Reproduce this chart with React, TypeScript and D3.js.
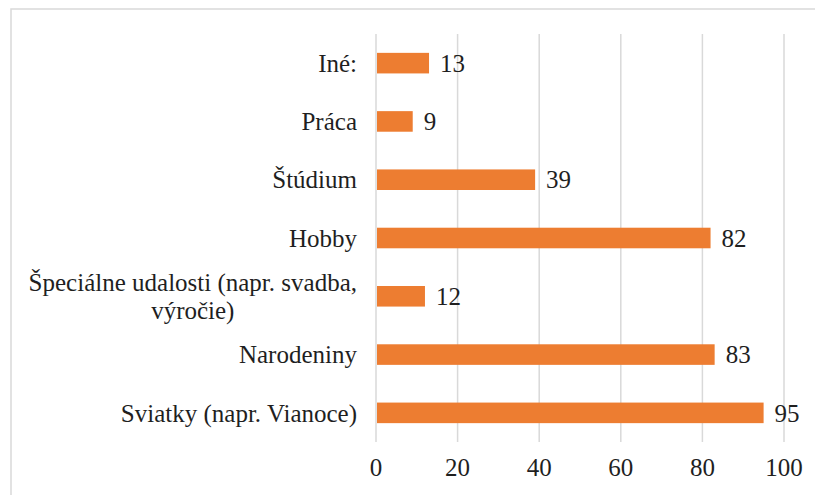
import React, { useEffect, useRef } from "react";
import * as d3 from "d3";

const categories: string[][] = [
  ["Iné:"],
  ["Práca"],
  ["Štúdium"],
  ["Hobby"],
  ["Špeciálne udalosti (napr. svadba,", "výročie)"],
  ["Narodeniny"],
  ["Sviatky (napr. Vianoce)"],
];
const values: number[] = [13, 9, 39, 82, 12, 83, 95];
const xTicks: number[] = [0, 20, 40, 60, 80, 100];

const W = 815;
const H = 495;
const FONT = "Liberation Serif";
const TEXT = "#1f1f1f";
const FS = 25;

export default function App() {
  const ref = useRef<SVGSVGElement | null>(null);

  useEffect(() => {
    const svg = d3.select(ref.current);
    svg.selectAll("*").remove();

    const left = 376, right = 784, top = 34, bottom = 442;
    const x = d3.scaleLinear().domain([0, 100]).range([left, right]);
    const idx = categories.map((_, i) => String(i));
    const y = d3.scaleBand().domain(idx).range([top, bottom]).paddingInner(0.647).paddingOuter(0.3235);

    // frame
    svg.append("rect")
      .attr("x", 11).attr("y", 9).attr("width", 900).attr("height", 600)
      .attr("fill", "#fff").attr("stroke", "#d9d9d9").attr("stroke-width", 1.5);

    // gridlines
    svg.append("g").selectAll("line").data(xTicks).join("line")
      .attr("x1", (d) => x(d)).attr("x2", (d) => x(d))
      .attr("y1", top).attr("y2", bottom)
      .attr("stroke", "#d9d9d9").attr("stroke-width", 1.5);

    // bars
    svg.append("g").selectAll("rect").data(values).join("rect")
      .attr("x", x(0) + 1)
      .attr("y", (_, i) => y(String(i))!)
      .attr("width", (d) => x(d) - x(0) - 1)
      .attr("height", y.bandwidth())
      .attr("fill", "#ED7D31");

    // value labels
    svg.append("g").selectAll("text").data(values).join("text")
      .attr("x", (d) => x(d) + 11)
      .attr("y", (_, i) => y(String(i))! + y.bandwidth() / 2)
      .attr("dy", "0.35em")
      .style("font-family", FONT).attr("font-size", FS).attr("fill", TEXT)
      .text((d) => String(d));

    // x tick labels
    svg.append("g").selectAll("text").data(xTicks).join("text")
      .attr("x", (d) => x(d)).attr("y", 476)
      .attr("text-anchor", "middle")
      .style("font-family", FONT).attr("font-size", FS).attr("fill", TEXT)
      .text((d) => String(d));

    // category labels
    const labelRight = 357;
    const lineH = 28.5;
    categories.forEach((lines, i) => {
      const cy = y(String(i))! + y.bandwidth() / 2;
      const g = svg.append("g");
      const texts = lines.map((ln, k) =>
        g.append("text")
          .attr("y", cy + (k - (lines.length - 1) / 2) * lineH)
          .attr("dy", "0.35em")
          .style("font-family", FONT).attr("font-size", FS).attr("fill", TEXT)
          .attr("text-anchor", "middle")
          .text(ln)
      );
      const widths = texts.map((t) => (t.node() as SVGTextElement).getComputedTextLength());
      const maxW = Math.max(...widths);
      const cx = labelRight - maxW / 2;
      texts.forEach((t) => t.attr("x", cx));
    });
  }, []);

  return (
    <svg ref={ref} width={W} height={H} style={{ position: "absolute", left: 0, top: 0, background: "#fff" }} />
  );
}
